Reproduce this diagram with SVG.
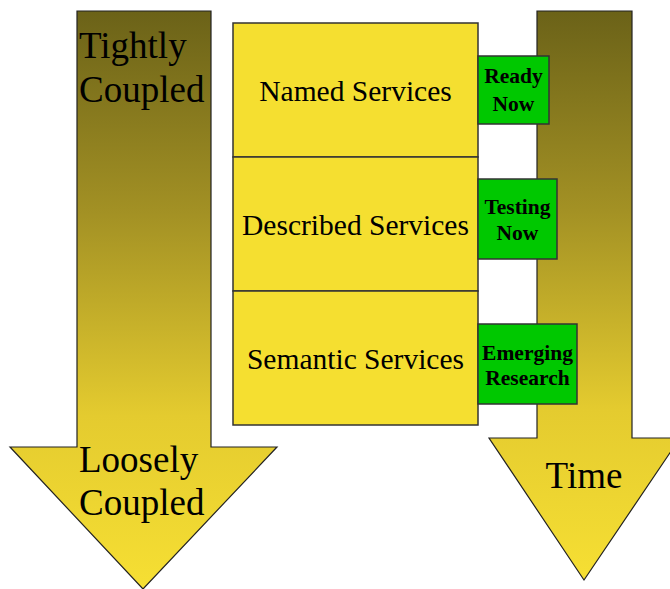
<svg xmlns="http://www.w3.org/2000/svg" width="670" height="589" viewBox="0 0 670 589">
  <style>
    .arrow { stroke: #222; stroke-width: 1.2; }
    .layer { fill: #f5df30; stroke: #333; stroke-width: 1.5; }
    .tag { fill: #00c800; stroke: #333; stroke-width: 1.5; }
    .big { font-family: "Liberation Serif", "Times New Roman", serif; font-size: 37px; fill: #000; }
    .mid { font-family: "Liberation Serif", "Times New Roman", serif; font-size: 29.5px; fill: #000; text-anchor: middle; }
    .small { font-family: "Liberation Serif", "Times New Roman", serif; font-size: 21.5px; font-weight: bold; fill: #000; text-anchor: middle; }
  </style>
  <defs>
    <linearGradient id="olive" x1="0" y1="0" x2="0" y2="1">
      <stop offset="0" stop-color="#6b6218"/>
      <stop offset="0.35" stop-color="#a39124"/>
      <stop offset="0.7" stop-color="#e4cb2f"/>
      <stop offset="1" stop-color="#f6df33"/>
    </linearGradient>
  </defs>

  <rect width="670" height="589" fill="#fff"/>

  <!-- coupling axis -->
  <g id="coupling-arrow">
    <path class="arrow" fill="url(#olive)" d="M77,11 H211 V447 H277 L143,589 L10,447 H77 Z"/>
    <text class="big" x="79" y="58">Tightly</text>
    <text class="big" x="79" y="102">Coupled</text>
    <text class="big" x="79" y="472">Loosely</text>
    <text class="big" x="79" y="515">Coupled</text>
  </g>

  <!-- time axis -->
  <g id="time-arrow">
    <path class="arrow" fill="url(#olive)" d="M537,11 H632 V438 H680 L584,580 L489,438 H537 Z"/>
    <text class="big" x="584" y="488" text-anchor="middle">Time</text>
  </g>

  <!-- service layers -->
  <g id="named-services">
    <rect class="layer" x="233" y="23" width="245" height="134"/>
    <text class="mid" x="355.5" y="101">Named Services</text>
  </g>
  <g id="described-services">
    <rect class="layer" x="233" y="157" width="245" height="134"/>
    <text class="mid" x="355.5" y="235">Described Services</text>
  </g>
  <g id="semantic-services">
    <rect class="layer" x="233" y="291" width="245" height="134"/>
    <text class="mid" x="355.5" y="369">Semantic Services</text>
  </g>

  <!-- status tags -->
  <g id="ready-now">
    <rect class="tag" x="478" y="56" width="71" height="68"/>
    <text class="small" x="513.5" y="83">Ready</text>
    <text class="small" x="513.5" y="111">Now</text>
  </g>
  <g id="testing-now">
    <rect class="tag" x="478" y="179" width="79" height="80"/>
    <text class="small" x="517.5" y="214">Testing</text>
    <text class="small" x="517.5" y="240">Now</text>
  </g>
  <g id="emerging-research">
    <rect class="tag" x="478" y="324" width="99" height="80"/>
    <text class="small" x="527.5" y="360">Emerging</text>
    <text class="small" x="527.5" y="385">Research</text>
  </g>

  <g id="connectors"/>
</svg>
